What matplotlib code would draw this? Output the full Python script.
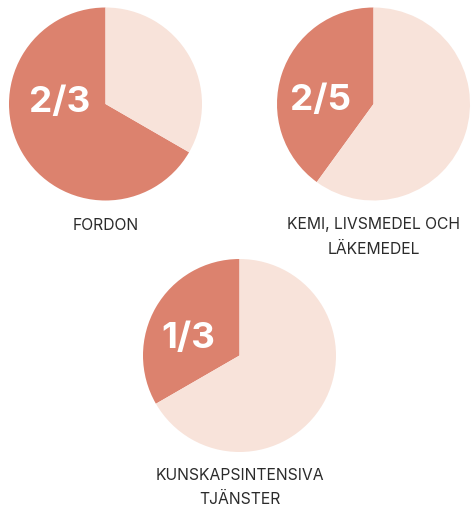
import matplotlib
matplotlib.use("Agg")
import matplotlib.pyplot as plt

# Data
categories = ["FORDON", "KEMI, LIVSMEDEL OCH\nLÄKEMEDEL", "KUNSKAPSINTENSIVA\nTJÄNSTER"]
shares = [2/3, 2/5, 1/3]
share_labels = ["2/3", "2/5", "1/3"]

DARK = "#DC826E"
LIGHT = "#F8E3DA"

W, H = 475, 507
fig = plt.figure(figsize=(W/100, H/100), dpi=100)
ax = fig.add_axes([0, 0, 1, 1])

# layout (pixel coordinates, y measured from top)
centers = [(105.5, 104), (373.5, 104), (239.5, 355.5)]
radius = 96.5
frac_pos = [(60, 112), (320.5, 109.5), (188, 348)]
cat_top = [217.5, 217.5, 468.0]

for i, (cat, s, lab) in enumerate(zip(categories, shares, share_labels)):
    cx, cy = centers[i]
    ax.pie([s, 1 - s], colors=[DARK, LIGHT], startangle=90, counterclock=True,
           center=(cx, H - cy), radius=radius,
           wedgeprops=dict(linewidth=0, edgecolor="none"))
    fx, fy = frac_pos[i]
    ax.text(fx, H - fy, lab, ha="center", va="baseline", color="white",
            fontsize=26.5, fontweight="bold", family="Inter")
    ax.text(cx, H - cat_top[i], cat, ha="center", va="top", color="#2b2b2b",
            fontsize=11.3, family="Inter", linespacing=1.75,
            multialignment="center")

ax.set_xlim(0, W)
ax.set_ylim(0, H)
ax.set_aspect("equal")
ax.axis("off")
fig.savefig("out.png", dpi=100)
